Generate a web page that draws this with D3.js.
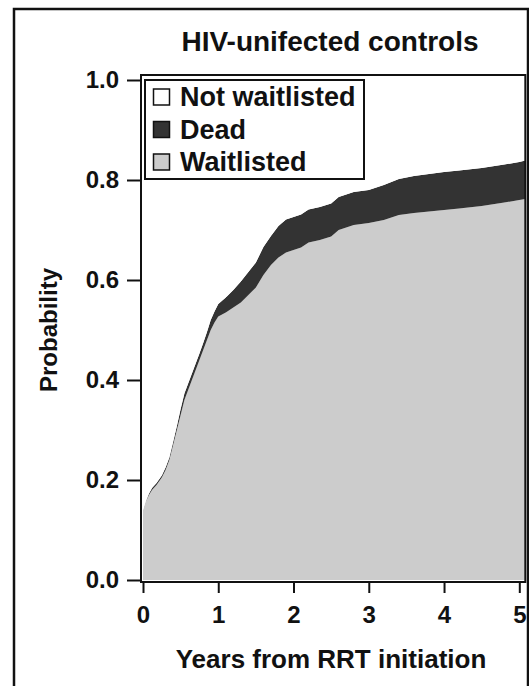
<!DOCTYPE html>
<html>
<head>
<meta charset="utf-8">
<script src="https://cdn.jsdelivr.net/npm/d3@7"></script>
<style>
  body { margin: 0; background: #fff; }
  svg text { font-family: "Liberation Sans", Arial, sans-serif; font-weight: bold; fill: #111; }
</style>
</head>
<body>
<svg width="529" height="686"></svg>
<script>
"use strict";

// cumulative probabilities (years since RRT initiation)
const years      = [0, 0.03, 0.08, 0.12, 0.18, 0.25, 0.30, 0.35, 0.40, 0.45, 0.50, 0.55, 0.60, 0.65, 0.70, 0.75, 0.80, 0.85, 0.90, 0.95, 1.00, 1.10, 1.20, 1.30, 1.40, 1.50, 1.60, 1.70, 1.80, 1.90, 2.00, 2.10, 2.20, 2.35, 2.50, 2.60, 2.80, 3.00, 3.20, 3.40, 3.60, 3.80, 4.00, 4.20, 4.50, 4.80, 5.00, 5.08];
const waitlisted = [0.14, 0.155, 0.17, 0.18, 0.19, 0.205, 0.22, 0.24, 0.27, 0.30, 0.33, 0.36, 0.38, 0.40, 0.42, 0.44, 0.46, 0.48, 0.50, 0.515, 0.527, 0.535, 0.545, 0.555, 0.57, 0.585, 0.61, 0.63, 0.645, 0.655, 0.66, 0.665, 0.675, 0.68, 0.687, 0.70, 0.71, 0.714, 0.72, 0.73, 0.734, 0.737, 0.74, 0.743, 0.748, 0.755, 0.76, 0.762];
const dead       = [0, 0, 0.003, 0.004, 0.004, 0.004, 0.005, 0.005, 0.006, 0.008, 0.012, 0.013, 0.013, 0.013, 0.013, 0.013, 0.014, 0.016, 0.020, 0.022, 0.025, 0.030, 0.035, 0.042, 0.046, 0.050, 0.056, 0.058, 0.063, 0.066, 0.066, 0.066, 0.066, 0.066, 0.066, 0.066, 0.066, 0.066, 0.070, 0.072, 0.074, 0.075, 0.076, 0.076, 0.076, 0.076, 0.076, 0.077];

const groups = ["Waitlisted", "Dead", "Not waitlisted"];
const legendOrder = ["Not waitlisted", "Dead", "Waitlisted"];
const colors = { "Waitlisted": "#cccccc", "Dead": "#333333", "Not waitlisted": "#ffffff" };
const xTicks = [0, 1, 2, 3, 4, 5];
const yTicks = [0, 0.2, 0.4, 0.6, 0.8, 1.0];

const title = "HIV-unifected controls";
const xTitle = "Years from RRT initiation";
const yTitle = "Probability";

const svg = d3.select("svg");

const x = d3.scaleLinear().domain([0, 5]).range([143, 519.3]);
const y = d3.scaleLinear().domain([0, 1]).range([580, 80]);

const rows = years.map((t, i) => ({
    year: t,
    "Waitlisted": waitlisted[i],
    "Dead": dead[i],
    "Not waitlisted": 1 - waitlisted[i] - dead[i]
}));

const series = d3.stack().keys(groups)(rows);

const area = d3.area()
    .curve(d3.curveLinear)
    .x(d => x(d.data.year))
    .y0(d => y(d[0]))
    .y1(d => y(d[1]));

// outer frame
svg.append("rect")
    .attr("x", 14).attr("y", 9)
    .attr("width", 514).attr("height", 690)
    .attr("fill", "none").attr("stroke", "#111").attr("stroke-width", 2.5);

svg.append("g")
  .selectAll("path")
  .data(series)
  .join("path")
    .attr("fill", d => colors[d.key])
    .attr("d", area);

// plot box
const boxLeft = x(0) - 2, boxRight = x(years[years.length - 1]);
svg.append("rect")
    .attr("x", boxLeft).attr("y", y(1) - 5)
    .attr("width", boxRight - boxLeft).attr("height", y(0) + 2 - (y(1) - 5))
    .attr("fill", "none").attr("stroke", "#111").attr("stroke-width", 2);

// axes
const yAxis = svg.append("g")
    .attr("transform", `translate(${boxLeft - 1},0)`)
    .call(d3.axisLeft(y).tickValues(yTicks).tickFormat(d3.format(".1f")).tickSize(13).tickSizeOuter(0).tickPadding(8));
const xAxis = svg.append("g")
    .attr("transform", `translate(0,${y(0) + 3})`)
    .call(d3.axisBottom(x).tickValues(xTicks).tickFormat(d3.format("d")).tickSize(10).tickSizeOuter(0).tickPadding(13));

[yAxis, xAxis].forEach(ax => {
    ax.select(".domain").remove();
    ax.selectAll("line").attr("stroke", "#111").attr("stroke-width", 2);
    ax.selectAll("text").attr("font-size", 24).attr("font-family", null).style("fill", "#111");
});

// titles
svg.append("text")
    .attr("x", 330).attr("y", 51)
    .attr("text-anchor", "middle").attr("font-size", 28)
    .text(title);

svg.append("text")
    .attr("x", 331).attr("y", 668)
    .attr("text-anchor", "middle").attr("font-size", 26)
    .text(xTitle);

svg.append("text")
    .attr("transform", `translate(57,${(y(0) + y(1)) / 2}) rotate(-90)`)
    .attr("text-anchor", "middle").attr("font-size", 24)
    .text(yTitle);

// legend
const legend = svg.append("g").attr("transform", "translate(145,80)");
legend.append("rect")
    .attr("width", 219).attr("height", 99)
    .attr("fill", "#fff").attr("stroke", "#111").attr("stroke-width", 2);

const item = legend.selectAll("g.item")
  .data(legendOrder)
  .join("g")
    .attr("class", "item")
    .attr("transform", (d, i) => `translate(8,${17 + i * 32.5})`);

item.append("rect")
    .attr("x", 0.5).attr("y", -8)
    .attr("width", 16).attr("height", 16)
    .attr("fill", d => colors[d]).attr("stroke", "#111").attr("stroke-width", 1.5);

item.append("text")
    .attr("x", 27).attr("y", 9)
    .attr("font-size", 27)
    .text(d => d);
</script>
</body>
</html>
